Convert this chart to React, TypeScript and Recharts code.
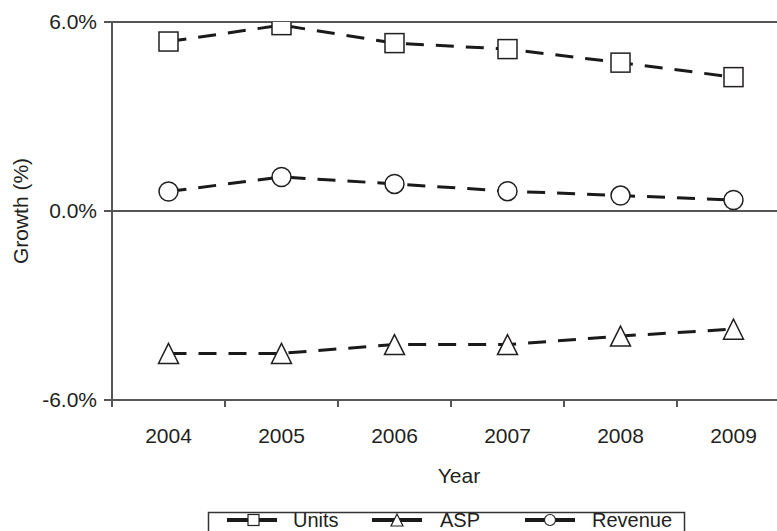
import React from 'react';
import { LineChart, Line, XAxis, YAxis, ReferenceLine } from 'recharts';

const years = ['2004', '2005', '2006', '2007', '2008', '2009'];
const units = [5.38, 5.9, 5.33, 5.14, 4.71, 4.25];
const asp = [-4.52, -4.52, -4.24, -4.24, -3.97, -3.75];
const revenue = [0.62, 1.08, 0.86, 0.63, 0.49, 0.35];
const yTicks = [-6, 0, 6];

const data = years.map((y, i) => ({ year: y, units: units[i], asp: asp[i], revenue: revenue[i] }));

const FONT = '"Liberation Sans", Arial, Helvetica, sans-serif';
const TEXT = '#231f20';
const AXIS = '#555555';
const LINE = '#1a1a1a';

const PLOT_LEFT = 112;
const PLOT_RIGHT = 790;
const PLOT_TOP = 22;
const PLOT_BOTTOM = 400;
const BAND = (PLOT_RIGHT - PLOT_LEFT) / years.length;

const SquareDot = (p: any) => {
  if (p.cx == null || p.cy == null) return <g key={p.index} />;
  return <rect key={p.index} x={p.cx - 9.5} y={p.cy - 9.5} width={19} height={19} fill="#fff" stroke={TEXT} strokeWidth={1.5} />;
};
const TriDot = (p: any) => {
  if (p.cx == null || p.cy == null) return <g key={p.index} />;
  const { cx, cy } = p;
  return <polygon key={p.index} points={`${cx},${cy - 10} ${cx - 10},${cy + 10} ${cx + 10},${cy + 10}`} fill="#fff" stroke={TEXT} strokeWidth={1.5} />;
};
const CircleDot = (p: any) => {
  if (p.cx == null || p.cy == null) return <g key={p.index} />;
  return <circle key={p.index} cx={p.cx} cy={p.cy} r={9.5} fill="#fff" stroke={TEXT} strokeWidth={1.5} />;
};

const XTick = (p: any) => {
  const { x, payload } = p;
  return (
    <g>
      <line x1={x - BAND / 2} x2={x - BAND / 2} y1={PLOT_BOTTOM} y2={PLOT_BOTTOM + 7} stroke={AXIS} strokeWidth={2} />
      <text x={x} y={443} textAnchor="middle" fontSize={21} fill={TEXT} fontFamily={FONT}>
        {payload.value}
      </text>
    </g>
  );
};

const Legend = () => (
  <svg width={777} height={531} style={{ position: 'absolute', left: 0, top: 0, pointerEvents: 'none' }}>
    <rect x={208.5} y={512.5} width={476} height={30} fill="#fff" stroke="#333" strokeWidth={1.5} />
    <line x1={227} x2={277} y1={520} y2={520} stroke={LINE} strokeWidth={4} />
    <rect x={248} y={514.5} width={11} height={11} fill="#fff" stroke={TEXT} strokeWidth={1.2} />
    <text x={293} y={527} fontSize={20} fill={TEXT} fontFamily={FONT}>Units</text>
    <line x1={372} x2={422} y1={520} y2={520} stroke={LINE} strokeWidth={4} />
    <polygon points="397,514 391,526 403,526" fill="#fff" stroke={TEXT} strokeWidth={1.2} />
    <text x={440} y={527} fontSize={20} fill={TEXT} fontFamily={FONT}>ASP</text>
    <line x1={525} x2={575} y1={520} y2={520} stroke={LINE} strokeWidth={4} />
    <circle cx={550} cy={520} r={5.5} fill="#fff" stroke={TEXT} strokeWidth={1.2} />
    <text x={592} y={527} fontSize={20} fill={TEXT} fontFamily={FONT}>Revenue</text>
  </svg>
);

export default function App() {
  return (
    <div style={{ position: 'fixed', left: 0, top: 0, width: 777, height: 531, overflow: 'hidden', background: '#fff' }}>
      <LineChart
        width={800}
        height={531}
        data={data}
        margin={{ top: PLOT_TOP, right: 10, left: 52, bottom: 101 }}
        style={{ fontFamily: FONT }}
      >
        <XAxis
          dataKey="year"
          height={30}
          padding={{ left: BAND / 2, right: BAND / 2 }}
          tickLine={false}
          axisLine={{ stroke: AXIS, strokeWidth: 2 }}
          tick={<XTick />}
          interval={0}
          label={{
            content: () => (
              <text x={459} y={483} textAnchor="middle" fontSize={21} fill={TEXT} fontFamily={FONT}>Year</text>
            ),
          }}
        />
        <YAxis
          width={60}
          domain={[-6, 6]}
          ticks={yTicks}
          allowDataOverflow
          tickFormatter={(v: number) => `${v.toFixed(1)}%`}
          tickSize={8}
          tickMargin={7}
          tickLine={{ stroke: AXIS, strokeWidth: 2 }}
          axisLine={{ stroke: AXIS, strokeWidth: 2 }}
          tick={{ fontSize: 21, fill: TEXT, fontFamily: FONT }}
          label={{
            content: () => (
              <text x={28} y={211} transform="rotate(-90, 28, 211)" textAnchor="middle" fontSize={21} fill={TEXT} fontFamily={FONT}>Growth (%)</text>
            ),
          }}
        />
        <ReferenceLine y={6} stroke={AXIS} strokeWidth={2} />
        <ReferenceLine y={0} stroke={AXIS} strokeWidth={2} />
        <Line dataKey="units" stroke={LINE} strokeWidth={3} strokeDasharray="18 12" dot={SquareDot} activeDot={false} isAnimationActive={false} />
        <Line dataKey="asp" stroke={LINE} strokeWidth={3} strokeDasharray="18 12" dot={TriDot} activeDot={false} isAnimationActive={false} />
        <Line dataKey="revenue" stroke={LINE} strokeWidth={3} strokeDasharray="18 12" dot={CircleDot} activeDot={false} isAnimationActive={false} />
      </LineChart>
      <Legend />
    </div>
  );
}
